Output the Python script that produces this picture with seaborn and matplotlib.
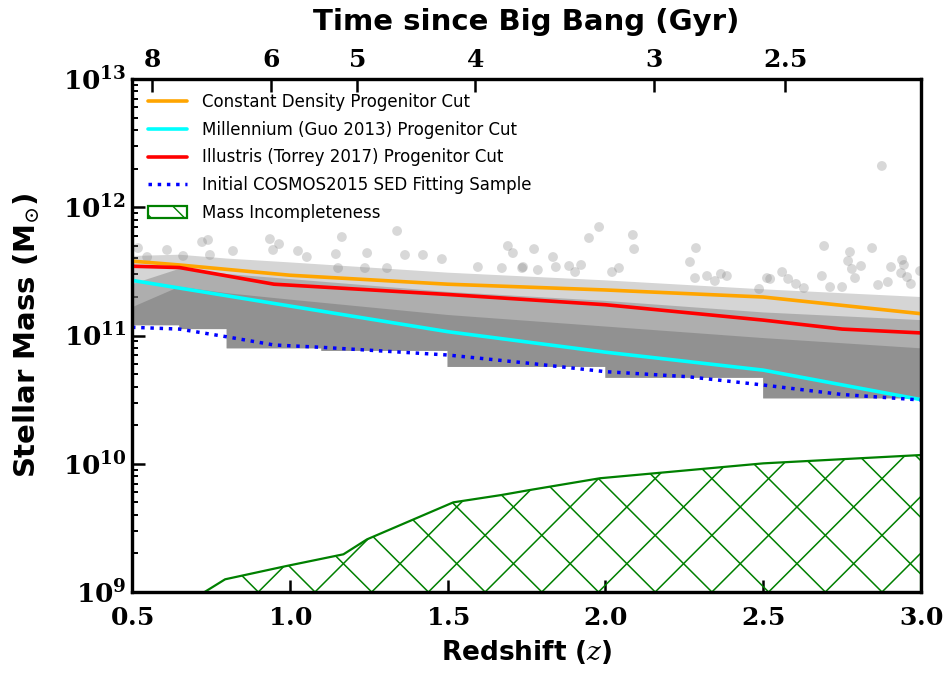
import numpy as np
import matplotlib
matplotlib.use("Agg")
import matplotlib.pyplot as plt
import seaborn as sns
from matplotlib.lines import Line2D
from matplotlib.patches import Patch
from matplotlib.collections import LineCollection
from matplotlib.ticker import FixedLocator, FuncFormatter, LogLocator, NullFormatter

# ---------------- data ----------------
orange_z = [0.5, 0.65, 1.0, 1.5, 2.0, 2.5, 3.0]
orange_logm = [11.58, 11.55, 11.47, 11.40, 11.355, 11.30, 11.17]

cyan_z = [0.5, 0.95, 1.5, 2.0, 2.5, 3.0]
cyan_logm = [11.43, 11.25, 11.03, 10.87, 10.73, 10.50]

red_z = [0.5, 0.65, 0.95, 1.5, 2.0, 2.5, 2.75, 3.0]
red_logm = [11.54, 11.53, 11.40, 11.32, 11.24, 11.12, 11.05, 11.02]

blue_z = [0.5, 0.65, 0.8, 0.95, 1.1, 1.5, 1.76, 2.0, 2.26, 2.5, 2.75, 3.0]
blue_logm = [11.064, 11.05, 10.99, 10.926, 10.908, 10.848, 10.783, 10.718, 10.679, 10.614, 10.54, 10.497]

incomp_z = [0.73, 0.795, 0.99, 1.17, 1.245, 1.518, 1.67, 1.76, 1.983, 2.5, 3.0]
incomp_logm = [9.0, 9.099, 9.203, 9.294, 9.411, 9.699, 9.756, 9.795, 9.887, 10.003, 10.068]

# sample cloud: lower edge per redshift bin and density envelopes
bin_edges = [0.5, 0.65, 0.8, 1.1, 1.5, 2.0, 2.5, 3.0]
bin_bottom_logm = [11.08, 11.05, 10.90, 10.88, 10.755, 10.67, 10.51]
env_z = [0.5, 0.65, 0.8, 1.0, 1.25, 1.5, 2.0, 2.5, 3.0]
light_top_logm = [11.62, 11.63, 11.60, 11.57, 11.53, 11.49, 11.43, 11.36, 11.30]
mid_top_logm = [11.40, 11.52, 11.48, 11.44, 11.39, 11.34, 11.27, 11.18, 11.12]
dark_top_logm = [11.22, 11.38, 11.33, 11.28, 11.22, 11.16, 11.07, 10.98, 10.90]

# individual sparse galaxies above the dense cloud
out_z = [0.519, 0.548, 0.611, 0.662, 0.722, 0.741, 0.747, 0.820, 0.937, 0.966,
         0.947, 1.026, 1.054, 1.146, 1.165, 1.245, 1.340, 1.365, 1.422, 1.482,
         1.691, 1.707, 1.596, 1.672, 1.736, 1.308, 1.238, 1.153, 1.980, 1.948,
         2.087, 2.091, 1.774, 1.834, 1.923, 1.885, 1.739, 1.786, 1.843, 1.904,
         2.021, 2.043, 2.287, 2.268, 2.284, 2.322, 2.347, 2.876, 2.693, 2.775,
         2.845, 2.769, 2.781, 2.810, 2.940, 2.946, 2.905, 2.937, 2.956, 2.997,
         2.560, 2.512, 2.522, 2.686, 2.366, 2.385, 2.579, 2.604, 2.629, 2.487,
         2.864, 2.895, 2.968, 2.750, 2.712, 2.791]
out_logm = [11.682, 11.612, 11.667, 11.620, 11.729, 11.745, 11.628, 11.659, 11.752, 11.713,
            11.667, 11.659, 11.612, 11.635, 11.768, 11.643, 11.815, 11.628, 11.628, 11.596,
            11.698, 11.643, 11.534, 11.526, 11.526, 11.526, 11.526, 11.526, 11.846, 11.760,
            11.784, 11.674, 11.674, 11.612, 11.550, 11.542, 11.534, 11.511, 11.534, 11.495,
            11.495, 11.526, 11.682, 11.573, 11.448, 11.464, 11.425, 12.322, 11.698, 11.651,
            11.682, 11.581, 11.519, 11.542, 11.589, 11.550, 11.534, 11.487, 11.456, 11.503,
            11.495, 11.448, 11.441, 11.464, 11.480, 11.464, 11.441, 11.402, 11.370, 11.363,
            11.394, 11.417, 11.402, 11.378, 11.378, 11.448]

age_ticks = [8, 6, 5, 4, 3, 2.5]
age_labels = ["8", "6", "5", "4", "3", "2.5"]
x_ticks = [0.5, 1.0, 1.5, 2.0, 2.5, 3.0]

legend_labels = ["Constant Density Progenitor Cut",
                 "Millennium (Guo 2013) Progenitor Cut",
                 "Illustris (Torrey 2017) Progenitor Cut",
                 "Initial COSMOS2015 SED Fitting Sample",
                 "Mass Incompleteness"]

# ---------------- style ----------------
sns.set_style("ticks")
plt.rcParams["font.family"] = ["DejaVu Sans"]
plt.rcParams["mathtext.fontset"] = "dejavuserif"
plt.rcParams.update({"axes.edgecolor": "black", "xtick.color": "black",
                     "ytick.color": "black", "text.color": "black",
                     "axes.labelcolor": "black", "hatch.color": "green"})

W_PX, H_PX = 949, 677
L, R, T, B = 132, 921, 79, 592
fig = plt.figure(figsize=(W_PX / 100, H_PX / 100), dpi=100)
ax = fig.add_axes([L / W_PX, 1 - B / H_PX, (R - L) / W_PX, (B - T) / H_PX])
ax.set_yscale("log")

# ---------------- sample cloud ----------------
stair_z = np.repeat(bin_edges, 2)[1:-1]
stair_m = np.repeat(bin_bottom_logm, 2)
for top, a in [(light_top_logm, 0.33), (mid_top_logm, 0.45), (dark_top_logm, 0.62)]:
    xs = np.concatenate([env_z, stair_z[::-1]])
    ys = 10 ** np.concatenate([top, stair_m[::-1]])
    ax.fill(xs, ys, color="#808080", alpha=a, lw=0, zorder=1)

sns.scatterplot(x=out_z, y=10 ** np.array(out_logm), color="#808080", alpha=0.3,
                s=50, edgecolor="none", ax=ax, zorder=2, legend=False)

# ---------------- progenitor cuts ----------------
lw = 2.6
sns.lineplot(x=orange_z, y=10 ** np.array(orange_logm), color="orange", lw=lw, ax=ax, zorder=4, sort=False)
sns.lineplot(x=cyan_z, y=10 ** np.array(cyan_logm), color="cyan", lw=lw, ax=ax, zorder=4, sort=False)
sns.lineplot(x=red_z, y=10 ** np.array(red_logm), color="red", lw=lw, ax=ax, zorder=4, sort=False)
sns.lineplot(x=blue_z, y=10 ** np.array(blue_logm), color="blue", lw=2.5, ls=":", ax=ax, zorder=5, sort=False)

# ---------------- mass incompleteness ----------------
poly = ax.fill_between(incomp_z, 1e8, 10 ** np.array(incomp_logm), facecolor="none",
                       edgecolor="green", lw=1.6, zorder=3)
aw, ah = R - L, B - T
sp, ph = 56.7, 12.9
segs = []
for k in range(-12, 26):
    x0 = ph + k * sp
    segs.append([(x0 / aw, 0), ((x0 + ah) / aw, 1)])
    segs.append([(x0 / aw, 0), ((x0 - ah) / aw, 1)])
lc = LineCollection(segs, colors="green", linewidths=1.1, transform=ax.transAxes, zorder=3)
ax.add_collection(lc, autolim=False)
lc.set_clip_path(poly.get_paths()[0], ax.transData)

# ---------------- axes ----------------
TICK_FS = 18
ax.set_xlim(0.5, 3.0)
ax.set_ylim(1e9, 1e13)
ax.xaxis.set_major_locator(FixedLocator(x_ticks))
ax.xaxis.set_major_formatter(FuncFormatter(lambda v, p: r"$\mathbf{%.1f}$" % v))
ax.yaxis.set_major_locator(LogLocator(base=10))
ax.yaxis.set_major_formatter(FuncFormatter(lambda v, p: r"$\mathbf{10^{%d}}$" % round(np.log10(v))))
ax.yaxis.set_minor_locator(LogLocator(base=10, subs=np.arange(2, 10)))
ax.yaxis.set_minor_formatter(NullFormatter())
ax.tick_params(axis="x", which="major", direction="in", length=9, width=1.8,
               top=False, bottom=True, labelsize=TICK_FS, pad=10)
ax.tick_params(axis="y", which="major", direction="in", length=9, width=1.8,
               left=True, right=False, labelsize=TICK_FS + 1, pad=4)
ax.tick_params(axis="y", which="minor", direction="in", length=4.5, width=1.4,
               left=True, right=False)
for s in ax.spines.values():
    s.set_linewidth(2.3)
ax.set_xlabel(r"Redshift ($\mathit{z}$)", fontsize=19, fontweight="bold", labelpad=6)
ax.set_ylabel(r"Stellar Mass (M$_{\odot}$)", fontsize=21, fontweight="bold", labelpad=15)

# top axis: time since Big Bang (flat LCDM, H0=70, Om=0.3)
Om, OL = 0.3, 0.7
hubble_time = 977.8 / 70.0
tscale = 2.0 / (3.0 * np.sqrt(OL)) * hubble_time
def z_of_age(t):
    t = np.asarray(t, dtype=float)
    return (np.sinh(t / tscale) / np.sqrt(OL / Om)) ** (-2.0 / 3.0) - 1.0

ax2 = ax.twiny()
ax2.set_xlim(0.5, 3.0)
ax2.set_xticks(z_of_age(age_ticks))
ax2.set_xticklabels([r"$\mathbf{%s}$" % s for s in age_labels])
ax2.tick_params(axis="x", direction="in", length=9, width=1.8, labelsize=TICK_FS, pad=5)
for s in ax2.spines.values():
    s.set_linewidth(2.3)
ax2.set_xlabel("Time since Big Bang (Gyr)", fontsize=21, fontweight="bold", labelpad=13)

# ---------------- legend ----------------
handles = [Line2D([], [], color="orange", lw=lw),
           Line2D([], [], color="cyan", lw=lw),
           Line2D([], [], color="red", lw=lw),
           Line2D([], [], color="blue", lw=2.5, ls=":"),
           Patch(facecolor="none", edgecolor="green", hatch="\\", lw=1.6)]
leg = ax.legend(handles, legend_labels, loc="upper left", bbox_to_anchor=(16 / aw, 1 - 14 / ah),
                frameon=False, fontsize=12, handlelength=2.35, handletextpad=0.9,
                labelspacing=0.58, borderaxespad=0, borderpad=0)
leg.set_zorder(10)

fig.savefig("out.png", dpi=100)
